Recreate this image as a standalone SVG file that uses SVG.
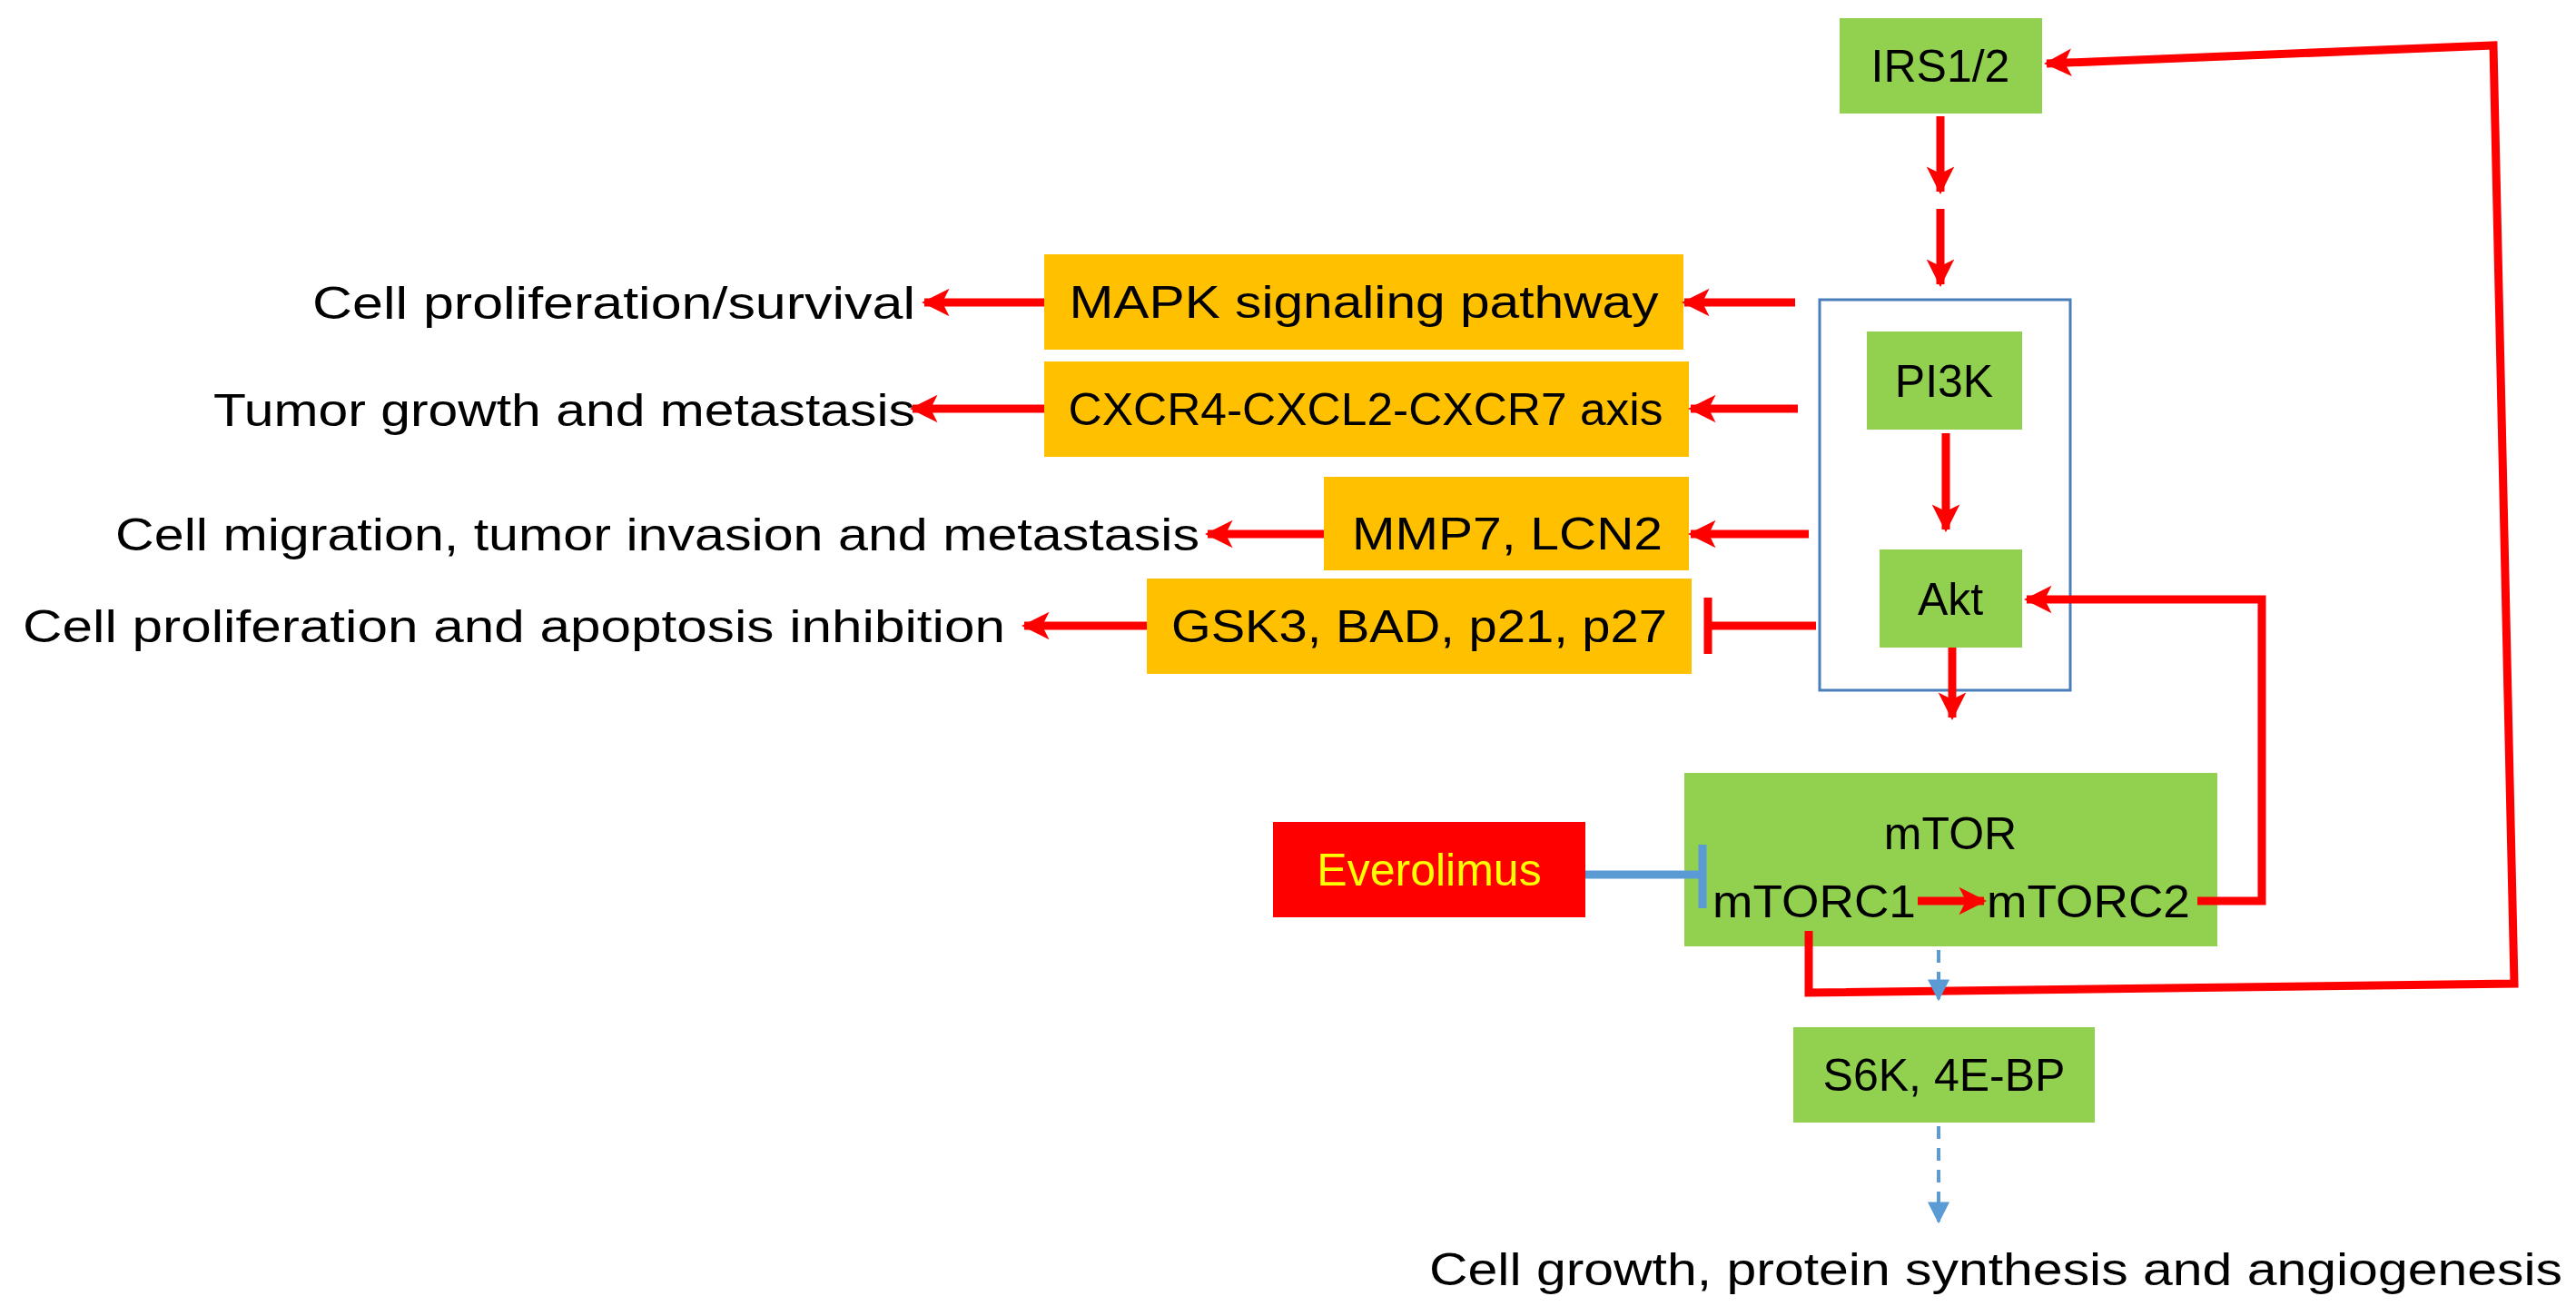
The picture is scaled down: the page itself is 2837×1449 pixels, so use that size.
<svg xmlns="http://www.w3.org/2000/svg" width="2837" height="1449" viewBox="0 0 2837 1449">
<style>
text{font-family:"Liberation Sans",Arial,sans-serif;font-size:50px;fill:#000}
.g{fill:#92d050}.o{fill:#ffc000}
.r{stroke:#ff0000;stroke-width:9;fill:none}
.b{stroke:#5b9bd5;stroke-width:4;fill:none;stroke-dasharray:14 10}
</style>
<defs>
<marker id="a" viewBox="0 0 10 10" refX="9" refY="5" markerWidth="3.4" markerHeight="3.6" orient="auto" markerUnits="strokeWidth"><path d="M0,0L10,5L0,10L2.5,5z" fill="#ff0000"/></marker>
<marker id="ab" viewBox="0 0 10 10" refX="9" refY="5" markerWidth="6" markerHeight="6" orient="auto" markerUnits="strokeWidth"><path d="M0,0L10,5L0,10z" fill="#5b9bd5"/></marker>
</defs>
<rect x="2004" y="330" width="276" height="430" fill="none" stroke="#4a7ebb" stroke-width="3"/>
<g id="irs"><rect class="g" x="2026" y="20" width="223" height="105"/><text x="2137" y="90" text-anchor="middle">IRS1/2</text></g>
<g id="pi3k"><rect class="g" x="2056" y="365" width="171" height="108"/><text x="2141" y="437" text-anchor="middle">PI3K</text></g>
<g id="akt"><rect class="g" x="2070" y="605" width="157" height="108"/><text x="2148" y="677" text-anchor="middle">Akt</text></g>
<g id="mtor"><rect class="g" x="1855" y="851" width="587" height="191"/><text x="2148" y="935" text-anchor="middle">mTOR</text><text x="1886" y="1010" textLength="224" lengthAdjust="spacingAndGlyphs">mTORC1</text><text x="2188" y="1010" textLength="224" lengthAdjust="spacingAndGlyphs">mTORC2</text></g>
<g id="everolimus"><rect x="1402" y="905" width="344" height="105" fill="#ff0000"/><text x="1574" y="975" text-anchor="middle" style="fill:#ffff00">Everolimus</text></g>
<g id="s6k"><rect class="g" x="1975" y="1131" width="332" height="105"/><text x="2141" y="1201" text-anchor="middle">S6K, 4E-BP</text></g>
<g id="mapk"><rect class="o" x="1150" y="280" width="704" height="105"/><text x="1502" y="350" text-anchor="middle" textLength="649" lengthAdjust="spacingAndGlyphs">MAPK signaling pathway</text></g>
<g id="cxcr"><rect class="o" x="1150" y="398" width="710" height="105"/><text x="1504" y="468" text-anchor="middle" textLength="655" lengthAdjust="spacingAndGlyphs">CXCR4-CXCL2-CXCR7 axis</text></g>
<g id="mmp"><rect class="o" x="1458" y="525" width="402" height="103"/><text x="1660" y="605" text-anchor="middle" textLength="342" lengthAdjust="spacingAndGlyphs">MMP7, LCN2</text></g>
<g id="gsk"><rect class="o" x="1263" y="637" width="600" height="105"/><text x="1563" y="707" text-anchor="middle" textLength="546" lengthAdjust="spacingAndGlyphs">GSK3, BAD, p21, p27</text></g>
<g id="labels">
<text x="1008" y="351" text-anchor="end" textLength="664" lengthAdjust="spacingAndGlyphs">Cell proliferation/survival</text>
<text x="1008" y="469" text-anchor="end" textLength="773" lengthAdjust="spacingAndGlyphs">Tumor growth and metastasis</text>
<text x="1321" y="606" text-anchor="end" textLength="1194" lengthAdjust="spacingAndGlyphs">Cell migration, tumor invasion and metastasis</text>
<text x="1107" y="707" text-anchor="end" textLength="1082" lengthAdjust="spacingAndGlyphs">Cell proliferation and apoptosis inhibition</text>
<text x="2198" y="1415" text-anchor="middle" textLength="1248" lengthAdjust="spacingAndGlyphs">Cell growth, protein synthesis and angiogenesis</text>
</g>
<g id="connectors">
<path class="r" d="M2137,128V211" marker-end="url(#a)"/>
<path class="r" d="M2137,230V313" marker-end="url(#a)"/>
<path class="r" d="M2143,477V583" marker-end="url(#a)"/>
<path class="r" d="M2150,713V790" marker-end="url(#a)"/>
<path class="r" d="M2112,992H2185" marker-end="url(#a)"/>
<path class="r" d="M2420,992H2491V660H2232" marker-end="url(#a)"/>
<path class="r" d="M1992,1025V1093L2769,1083L2746,50L2254,70" marker-end="url(#a)"/>
<path class="r" d="M1977,333H1855" marker-end="url(#a)"/>
<path class="r" d="M1980,450H1862" marker-end="url(#a)"/>
<path class="r" d="M1992,588H1862" marker-end="url(#a)"/>
<path class="r" d="M2000,689H1881M1881,658V720"/>
<path class="r" d="M1150,333H1018" marker-end="url(#a)"/>
<path class="r" d="M1150,450H1005" marker-end="url(#a)"/>
<path class="r" d="M1458,588H1330" marker-end="url(#a)"/>
<path class="r" d="M1263,689H1128" marker-end="url(#a)"/>
<path d="M1746,963H1875M1875,930V1000" stroke="#5b9bd5" stroke-width="9" fill="none"/>
<path class="b" d="M2135,1046V1100" marker-end="url(#ab)"/>
<path class="b" d="M2135,1240V1345" marker-end="url(#ab)"/>
</g>
</svg>
